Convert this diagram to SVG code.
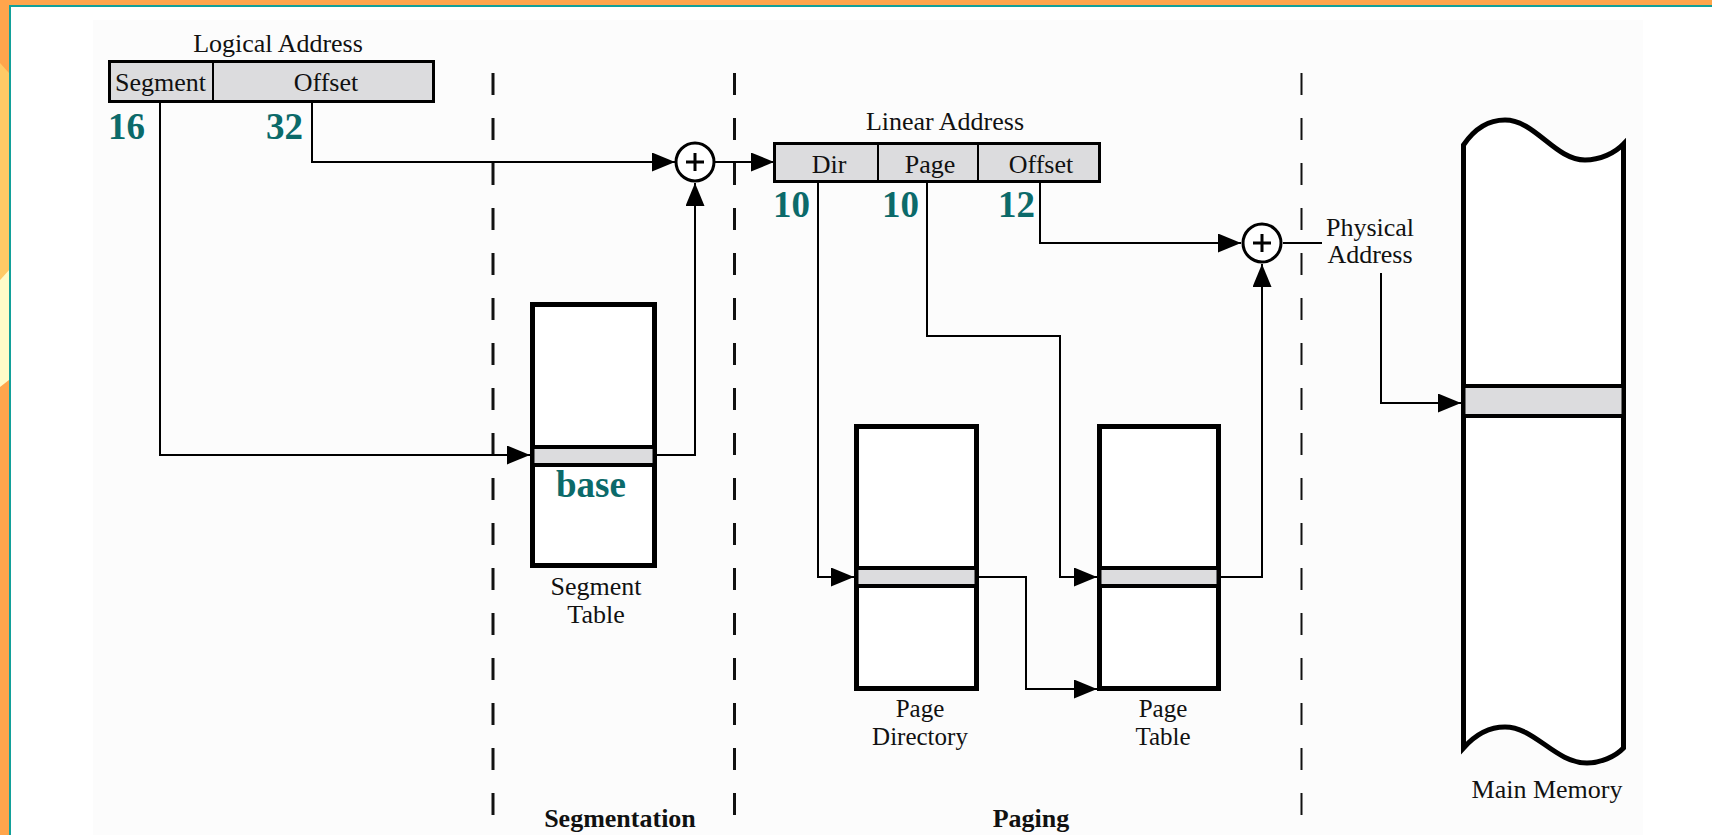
<svg xmlns="http://www.w3.org/2000/svg" width="1712" height="835" viewBox="0 0 1712 835">
<style>
text{font-family:"Liberation Serif","Times New Roman",serif;fill:#111}
.lbl{font-size:26px}
.sm{font-size:25px}
.mid{text-anchor:middle}
.bold{font-weight:bold}
.num{font-family:"Liberation Serif","Times New Roman",serif;font-weight:bold;font-size:37px;fill:#0b6a6a}
.conn{fill:none;stroke:#000;stroke-width:2}
.addr{fill:#dcdcde;stroke:#000;stroke-width:3}
.tbl{fill:#fff;stroke:#000;stroke-width:5}
.entry{fill:#dcdcde;stroke:#000;stroke-width:4}
.dash{stroke:#111;stroke-width:3;stroke-dasharray:22 23}
.sum{fill:#fff;stroke:#000;stroke-width:3}
</style>
<defs>
<marker id="arr" markerUnits="userSpaceOnUse" markerWidth="24" markerHeight="20" viewBox="0 0 24 20" refX="23" refY="9.5" orient="auto">
<path d="M0,0 L23,9.5 L0,19 Z" fill="#000"/>
</marker>
</defs>
<!-- background frame -->
<rect x="0" y="0" width="1712" height="835" fill="#ffffff"/>
<rect x="93" y="20" width="1550" height="815" fill="#fcfcfc"/>
<rect x="0" y="0" width="1712" height="5" fill="#ffa54c"/>
<rect x="0" y="0" width="9" height="835" fill="#ffa54c"/>
<polygon points="0,63 9,73 9,270 0,280" fill="#ffca66"/>
<polygon points="0,280 9,270 9,380 0,387" fill="#fffbc8"/>
<rect x="9" y="5" width="1703" height="2" fill="#12a09a"/>
<rect x="9" y="5" width="2" height="830" fill="#12a09a"/>

<!-- dashed separators -->
<g id="separators">
<line class="dash" x1="493" y1="73" x2="493" y2="816"/>
<line class="dash" x1="734.5" y1="73" x2="734.5" y2="816"/>
<line class="dash" x1="1301.5" y1="73" x2="1301.5" y2="816" style="stroke-width:2"/>
</g>

<!-- connectors -->
<g id="connectors">
<path class="conn" d="M160,103 V455 H530" marker-end="url(#arr)"/>
<path class="conn" d="M312,103 V162 H675" marker-end="url(#arr)"/>
<path class="conn" d="M657,455 H695 V183" marker-end="url(#arr)"/>
<path class="conn" d="M715,162 H774" marker-end="url(#arr)"/>
<path class="conn" d="M818,183 V577 H854" marker-end="url(#arr)"/>
<path class="conn" d="M927,183 V336 H1060 V577 H1097" marker-end="url(#arr)"/>
<path class="conn" d="M979,577 H1026 V689 H1097" marker-end="url(#arr)"/>
<path class="conn" d="M1221,577 H1262 V264" marker-end="url(#arr)"/>
<path class="conn" d="M1040,183 V243 H1241" marker-end="url(#arr)"/>
<path class="conn" d="M1283,243 H1322"/>
<path class="conn" d="M1381,273 V403 H1461" marker-end="url(#arr)"/>
</g>

<!-- logical address -->
<g id="logical-address">
<text class="lbl mid" x="278" y="52">Logical Address</text>
<rect class="addr" x="109.5" y="61.5" width="324" height="40"/>
<line x1="213" y1="61.5" x2="213" y2="101.5" stroke="#000" stroke-width="2"/>
<text class="lbl mid" x="160.5" y="91">Segment</text>
<text class="lbl mid" x="326" y="91">Offset</text>
<text class="num" x="108" y="139">16</text>
<text class="num" x="266" y="139">32</text>
</g>

<!-- adder 1 -->
<g id="adder1">
<circle class="sum" cx="695" cy="162" r="19"/>
<path d="M686,162 H704 M695,153 V171" stroke="#000" stroke-width="3"/>
</g>

<!-- segment table -->
<g id="segment-table">
<rect class="tbl" x="532.5" y="304.5" width="122" height="261"/>
<rect class="entry" x="532.5" y="447" width="122" height="18"/>
<text class="num mid" x="591" y="497">base</text>
<text class="lbl mid" x="596" y="595">Segment</text>
<text class="lbl mid" x="596" y="623">Table</text>
</g>

<!-- linear address -->
<g id="linear-address">
<text class="lbl mid" x="945" y="130">Linear Address</text>
<rect class="addr" x="774.5" y="143.5" width="325" height="38"/>
<line x1="878" y1="143.5" x2="878" y2="181.5" stroke="#000" stroke-width="2"/>
<line x1="978" y1="143.5" x2="978" y2="181.5" stroke="#000" stroke-width="2"/>
<text class="lbl mid" x="829" y="173">Dir</text>
<text class="lbl mid" x="930" y="173">Page</text>
<text class="lbl mid" x="1041" y="173">Offset</text>
<text class="num" x="773" y="217">10</text>
<text class="num" x="882" y="217">10</text>
<text class="num" x="998" y="217">12</text>
</g>

<!-- page directory -->
<g id="page-directory">
<rect class="tbl" x="856.5" y="426.5" width="120" height="262"/>
<rect class="entry" x="856.5" y="568" width="120" height="18"/>
<text class="sm mid" x="920" y="717">Page</text>
<text class="sm mid" x="920" y="745">Directory</text>
</g>

<!-- page table -->
<g id="page-table">
<rect class="tbl" x="1099.5" y="426.5" width="119" height="262"/>
<rect class="entry" x="1099.5" y="568" width="119" height="18"/>
<text class="sm mid" x="1163" y="717">Page</text>
<text class="sm mid" x="1163" y="745">Table</text>
</g>

<!-- adder 2 -->
<g id="adder2">
<circle class="sum" cx="1262" cy="243" r="19"/>
<path d="M1253,243 H1271 M1262,234 V252" stroke="#000" stroke-width="3"/>
</g>

<!-- physical address label -->
<g id="physical-address">
<text class="lbl mid" x="1370" y="236">Physical</text>
<text class="lbl mid" x="1370" y="263">Address</text>
</g>

<!-- main memory -->
<g id="main-memory">
<path d="M1463.5,145 C1475,128 1490,120 1505,120 C1535,120 1555,160 1585,160 C1600,160 1615,153 1623.5,144 L1623.5,748 C1615,757 1600,763 1587,763 C1555,763 1535,727 1505,727 C1490,727 1475,735 1463.5,748 Z" fill="#fff" stroke="#000" stroke-width="5"/>
<rect class="entry" x="1463.5" y="386" width="160" height="30"/>
<text class="lbl mid" x="1547" y="798">Main Memory</text>
</g>

<!-- section labels -->
<g id="sections">
<text class="lbl mid bold" x="620" y="827">Segmentation</text>
<text class="lbl mid bold" x="1031" y="827">Paging</text>
</g>
</svg>
